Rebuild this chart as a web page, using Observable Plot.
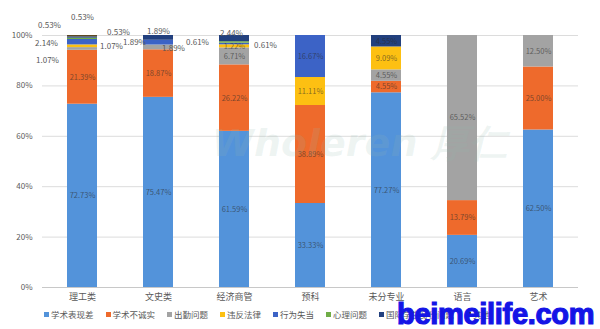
<!DOCTYPE html>
<html>
<head>
<meta charset="utf-8">
<script src="https://cdn.jsdelivr.net/npm/d3@7"></script>
<script src="https://cdn.jsdelivr.net/npm/@observablehq/plot@0.6"></script>
<style>
  html, body { margin: 0; padding: 0; background: #fff; }
  #wrap { position: relative; width: 600px; height: 329px; overflow: hidden; font-family: "Noto Sans CJK SC", sans-serif; }
  #legend { position: absolute; left: 44px; top: 308px; display: flex; gap: 12px; font-size: 8.5px; color: #595959; white-space: nowrap; line-height: 12px; }
  #legend .item { display: flex; align-items: center; gap: 2px; }
  #legend .sw { width: 5px; height: 5px; display: inline-block; }
  #wm1 { position: absolute; left: 212px; top: 118px; font-family: "DejaVu Sans", sans-serif; font-weight: bold; font-style: italic; font-size: 38px; color: rgba(150,185,175,0.16); white-space: nowrap; pointer-events: none; }
  #wm2 { position: absolute; left: 397px; top: 298px; font-family: "Liberation Sans", Arial, sans-serif; font-weight: bold; font-size: 29px; color: #1414e6; -webkit-text-stroke: 1.2px #1414e6; white-space: nowrap; letter-spacing: -0.3px; line-height: 32px; }
</style>
</head>
<body>
<div id="wrap">
  <div id="chart"></div>
  <div id="wm1">Wholeren 厚仁</div>
  <div id="legend"></div>
  <div id="wm2">beimeilife.com</div>
</div>
<script>
// ---- data ----
const categories = ["理工类", "文史类", "经济商管", "预科", "未分专业", "语言", "艺术"];
const seriesNames = ["学术表现差", "学术不诚实", "出勤问题", "违反法律", "行为失当", "心理问题", "国际学生身份问题", "其他"];
const academicPoor   = [72.73, 75.47, 61.59, 33.33, 77.27, 20.69, 62.50];
const dishonesty     = [21.39, 18.87, 26.22, 38.89, 4.55, 13.79, 25.00];
const attendance     = [1.07, 1.89, 6.71, 0, 4.55, 65.52, 12.50];
const lawViolation   = [1.07, 0, 1.22, 11.11, 9.09, 0, 0];
const misconduct     = [2.14, 1.89, 0.61, 16.67, 0, 0, 0];
const mental         = [0.53, 0, 0.61, 0, 0, 0, 0];
const international  = [0.53, 1.89, 2.44, 0, 4.55, 0, 0];
const other          = [0.53, 0, 0, 0, 0, 0, 0];
const seriesValues = [academicPoor, dishonesty, attendance, lawViolation, misconduct, mental, international, other];
const colors = ["#5393da", "#ee6a2c", "#a3a3a3", "#fdc012", "#3c63c6", "#70ad47", "#22407e", "#5e4a20"];
// small segments labelled outside the bar: [category, series, dx, dy]
const callouts = [
  ["理工类", "其他", 0, -19],
  ["理工类", "国际学生身份问题", -33, -12],
  ["理工类", "心理问题", 36, -6],
  ["理工类", "行为失当", -36, 1],
  ["理工类", "违反法律", 29, 0],
  ["理工类", "出勤问题", -35, 11],
  ["文史类", "国际学生身份问题", 0, -6],
  ["文史类", "行为失当", -24, 0],
  ["文史类", "出勤问题", 15, 1],
  ["经济商管", "国际学生身份问题", -3, -5],
  ["经济商管", "心理问题", -37, 0],
  ["经济商管", "行为失当", 31, 1.5]
];

// ---- build normalized stacks ----
const rows = [];
categories.forEach((cat, i) => {
  const total = d3.sum(seriesValues, s => s[i]);
  let cum = 0;
  seriesNames.forEach((name, j) => {
    const v = seriesValues[j][i];
    if (v > 0) {
      rows.push({cat, series: name, value: v, y1: cum / total, y2: (cum + v) / total, mid: (cum + v / 2) / total});
      cum += v;
    }
  });
});
const calloutKeys = new Set(callouts.map(c => c[0] + "|" + c[1]));
const inside = rows.filter(r => !calloutKeys.has(r.cat + "|" + r.series));
const fmt = d => d.value.toFixed(2) + "%";

const calloutMarks = callouts.map(([cat, series, dx, dy]) =>
  Plot.text(rows.filter(r => r.cat === cat && r.series === series), {
    x: "cat", y: "mid", text: fmt, dx, dy, fill: "#595959", fontSize: 8
  })
);

const chart = Plot.plot({
  width: 600,
  height: 306,
  marginTop: 35,
  marginBottom: 19,
  marginLeft: 42,
  marginRight: 22,
  style: {fontFamily: "'Noto Sans CJK SC', sans-serif", background: "transparent"},
  x: {domain: categories, paddingInner: 0.6, paddingOuter: 0.3, label: null},
  y: {domain: [0, 1], label: null},
  color: {domain: seriesNames, range: colors},
  marks: [
    Plot.gridY([0.2, 0.4, 0.6, 0.8, 1], {stroke: "#dcdcdc", strokeOpacity: 1}),
    Plot.ruleY([0], {stroke: "#c8c8c8"}),
    Plot.axisY([0, 0.2, 0.4, 0.6, 0.8, 1], {tickFormat: d => Math.round(d * 100) + "%", tickSize: 0, tickPadding: 10, fontSize: 8, fill: "#595959", label: null}),
    Plot.axisX({tickSize: 0, tickPadding: 6, fontSize: 9, fill: "#595959", label: null}),
    Plot.barY(rows, {x: "cat", y1: "y1", y2: "y2", fill: "series"}),
    Plot.text(inside, {x: "cat", y: "mid", text: fmt, fill: "#2a2a2a", fillOpacity: 0.6, fontSize: 7.5}),
    ...calloutMarks
  ]
});
document.getElementById("chart").appendChild(chart);

// legend
const legend = document.getElementById("legend");
seriesNames.forEach((name, j) => {
  const item = document.createElement("span");
  item.className = "item";
  item.innerHTML = `<span class="sw" style="background:${colors[j]}"></span>${name}`;
  legend.appendChild(item);
});
</script>
</body>
</html>
